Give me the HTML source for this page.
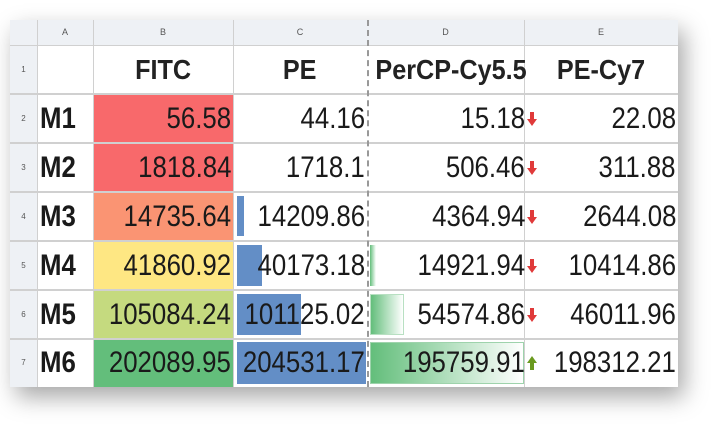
<!DOCTYPE html>
<html><head><style>
body{margin:0;width:723px;height:439px;background:#fff;position:relative;overflow:hidden;font-family:"Liberation Sans",sans-serif;}
.tbl{position:absolute;left:10px;top:20px;width:668px;height:367px;background:#fff;box-shadow:6px 10px 22px rgba(0,0,0,0.35);}
.c{position:absolute;box-sizing:border-box;color:#1a1a1a;font-size:30px;line-height:46px;height:46px;white-space:nowrap;}
.c span{display:inline-block;transform:scaleX(0.86);transform-origin:right center;}
.r span{position:absolute;right:2px;top:0;}
.h{font-size:28px;}
.h span{transform-origin:center center;transform:scaleX(0.9);}
.m span{transform-origin:left center;}
.hl{position:absolute;background:#d0d0d0;}
.bar{position:absolute;}
.sm{font-size:9px;color:#555;text-align:center;line-height:25px;}
.rn{font-size:8px;color:#555;text-align:center;}
.ar{position:absolute;left:527px;width:10px;height:14px;}
</style></head><body>
<div class="tbl">
<div style="position:absolute;left:0;top:0;width:668px;height:25px;background:#eef1f5"></div>
<div style="position:absolute;left:0;top:0;width:27px;height:367px;background:#eef1f5"></div>
</div>
<div class="c sm" style="left:37px;top:20px;width:56px">A</div>
<div class="c sm" style="left:93px;top:20px;width:140px">B</div>
<div class="c sm" style="left:233px;top:20px;width:134px">C</div>
<div class="c sm" style="left:367px;top:20px;width:157px">D</div>
<div class="c sm" style="left:524px;top:20px;width:154px">E</div>
<div class="bar" style="left:93px;top:94px;width:140px;height:49px;background:#f8696b"></div>
<div class="bar" style="left:93px;top:143px;width:140px;height:49px;background:#f8696b"></div>
<div class="bar" style="left:93px;top:192px;width:140px;height:49px;background:#fa9473"></div>
<div class="bar" style="left:93px;top:241px;width:140px;height:49px;background:#fee783"></div>
<div class="bar" style="left:93px;top:290px;width:140px;height:49px;background:#c5da7f"></div>
<div class="bar" style="left:93px;top:339px;width:140px;height:48px;background:#63be7b"></div>
<div class="bar" style="left:237px;top:196px;width:7px;height:40px;background:#638ec6"></div>
<div class="bar" style="left:237px;top:245px;width:25px;height:41px;background:#638ec6"></div>
<div class="bar" style="left:237px;top:294px;width:64px;height:41px;background:#638ec6"></div>
<div class="bar" style="left:237px;top:342px;width:129px;height:42px;background:#638ec6"></div>
<div class="bar" style="left:370px;top:245px;width:6px;height:41px;background:linear-gradient(90deg,#63be7b,#fff)"></div>
<div class="bar" style="left:370px;top:294px;width:34px;height:41px;background:linear-gradient(90deg,#63be7b,#fff);border:1px solid #b8e0c2;box-sizing:border-box"></div>
<div class="bar" style="left:370px;top:342px;width:154px;height:42px;background:linear-gradient(90deg,#63be7b,#fff);border:1px solid #9ed3ac;box-sizing:border-box"></div>
<div class="hl" style="left:10px;top:45px;width:668px;height:1px"></div>
<div class="hl" style="left:10px;top:93px;width:668px;height:2px"></div>
<div class="hl" style="left:10px;top:142px;width:668px;height:2px"></div>
<div class="hl" style="left:10px;top:191px;width:668px;height:2px"></div>
<div class="hl" style="left:10px;top:240px;width:668px;height:2px"></div>
<div class="hl" style="left:10px;top:289px;width:668px;height:2px"></div>
<div class="hl" style="left:10px;top:338px;width:668px;height:2px"></div>
<div class="hl" style="left:37px;top:20px;width:1px;height:367px"></div>
<div class="hl" style="left:93px;top:20px;width:1px;height:367px"></div>
<div class="hl" style="left:233px;top:20px;width:1px;height:367px"></div>
<div style="position:absolute;left:367px;top:20px;width:0;height:367px;border-left:2px dashed #999"></div>
<div class="hl" style="left:524px;top:20px;width:1px;height:367px"></div>
<div class="c rn" style="left:10px;top:46px;width:27px;line-height:48px">1</div>
<div class="c h" style="left:93px;top:46px;width:140px;text-align:center;line-height:48px;font-weight:bold;color:#222"><span>FITC</span></div>
<div class="c h" style="left:233px;top:46px;width:134px;text-align:center;line-height:48px;font-weight:bold;color:#222"><span>PE</span></div>
<div class="c h" style="left:367px;top:46px;width:157px;text-align:center;line-height:48px;font-weight:bold;color:#222"><span>PerCP-Cy5.5</span></div>
<div class="c h" style="left:524px;top:46px;width:154px;text-align:center;line-height:48px;font-weight:bold;color:#222"><span>PE-Cy7</span></div>

<svg width="0" height="0" style="position:absolute"><defs>
<symbol id="dn" viewBox="0 0 10 14"><path d="M3 0h4v7h3l-5 7-5-7h3z" fill="#e03a3a"/></symbol>
<symbol id="up" viewBox="0 0 10 14"><path d="M3 14h4v-7h3l-5-7-5 7h3z" fill="#6a9a1f"/></symbol>
</defs></svg>

<div style="position:absolute;left:0;top:96px">
<div class="c rn" style="left:10px;top:0;width:27px">2</div>
<div class="c m" style="left:40px;top:0;font-weight:bold"><span>M1</span></div>
<div class="c r" style="left:93px;top:0;width:140px"><span>56.58</span></div>
<div class="c r" style="left:233px;top:0;width:134px"><span>44.16</span></div>
<div class="c r" style="left:367px;top:0;width:160px"><span>15.18</span></div>
<svg class="ar" style="top:16px"><use href="#dn"/></svg>
<div class="c r" style="left:524px;top:0;width:154px"><span>22.08</span></div>
</div>
<div style="position:absolute;left:0;top:145px">
<div class="c rn" style="left:10px;top:0;width:27px">3</div>
<div class="c m" style="left:40px;top:0;font-weight:bold"><span>M2</span></div>
<div class="c r" style="left:93px;top:0;width:140px"><span>1818.84</span></div>
<div class="c r" style="left:233px;top:0;width:134px"><span>1718.1</span></div>
<div class="c r" style="left:367px;top:0;width:160px"><span>506.46</span></div>
<svg class="ar" style="top:16px"><use href="#dn"/></svg>
<div class="c r" style="left:524px;top:0;width:154px"><span>311.88</span></div>
</div>
<div style="position:absolute;left:0;top:194px">
<div class="c rn" style="left:10px;top:0;width:27px">4</div>
<div class="c m" style="left:40px;top:0;font-weight:bold"><span>M3</span></div>
<div class="c r" style="left:93px;top:0;width:140px"><span>14735.64</span></div>
<div class="c r" style="left:233px;top:0;width:134px"><span>14209.86</span></div>
<div class="c r" style="left:367px;top:0;width:160px"><span>4364.94</span></div>
<svg class="ar" style="top:16px"><use href="#dn"/></svg>
<div class="c r" style="left:524px;top:0;width:154px"><span>2644.08</span></div>
</div>
<div style="position:absolute;left:0;top:243px">
<div class="c rn" style="left:10px;top:0;width:27px">5</div>
<div class="c m" style="left:40px;top:0;font-weight:bold"><span>M4</span></div>
<div class="c r" style="left:93px;top:0;width:140px"><span>41860.92</span></div>
<div class="c r" style="left:233px;top:0;width:134px"><span>40173.18</span></div>
<div class="c r" style="left:367px;top:0;width:160px"><span>14921.94</span></div>
<svg class="ar" style="top:16px"><use href="#dn"/></svg>
<div class="c r" style="left:524px;top:0;width:154px"><span>10414.86</span></div>
</div>
<div style="position:absolute;left:0;top:292px">
<div class="c rn" style="left:10px;top:0;width:27px">6</div>
<div class="c m" style="left:40px;top:0;font-weight:bold"><span>M5</span></div>
<div class="c r" style="left:93px;top:0;width:140px"><span>105084.24</span></div>
<div class="c r" style="left:233px;top:0;width:134px"><span>101125.02</span></div>
<div class="c r" style="left:367px;top:0;width:160px"><span>54574.86</span></div>
<svg class="ar" style="top:16px"><use href="#dn"/></svg>
<div class="c r" style="left:524px;top:0;width:154px"><span>46011.96</span></div>
</div>
<div style="position:absolute;left:0;top:340px">
<div class="c rn" style="left:10px;top:0;width:27px">7</div>
<div class="c m" style="left:40px;top:0;font-weight:bold"><span>M6</span></div>
<div class="c r" style="left:93px;top:0;width:140px"><span>202089.95</span></div>
<div class="c r" style="left:233px;top:0;width:134px"><span>204531.17</span></div>
<div class="c r" style="left:367px;top:0;width:160px"><span>195759.91</span></div>
<svg class="ar" style="top:16px"><use href="#up"/></svg>
<div class="c r" style="left:524px;top:0;width:154px"><span>198312.21</span></div>
</div>
</body></html>
